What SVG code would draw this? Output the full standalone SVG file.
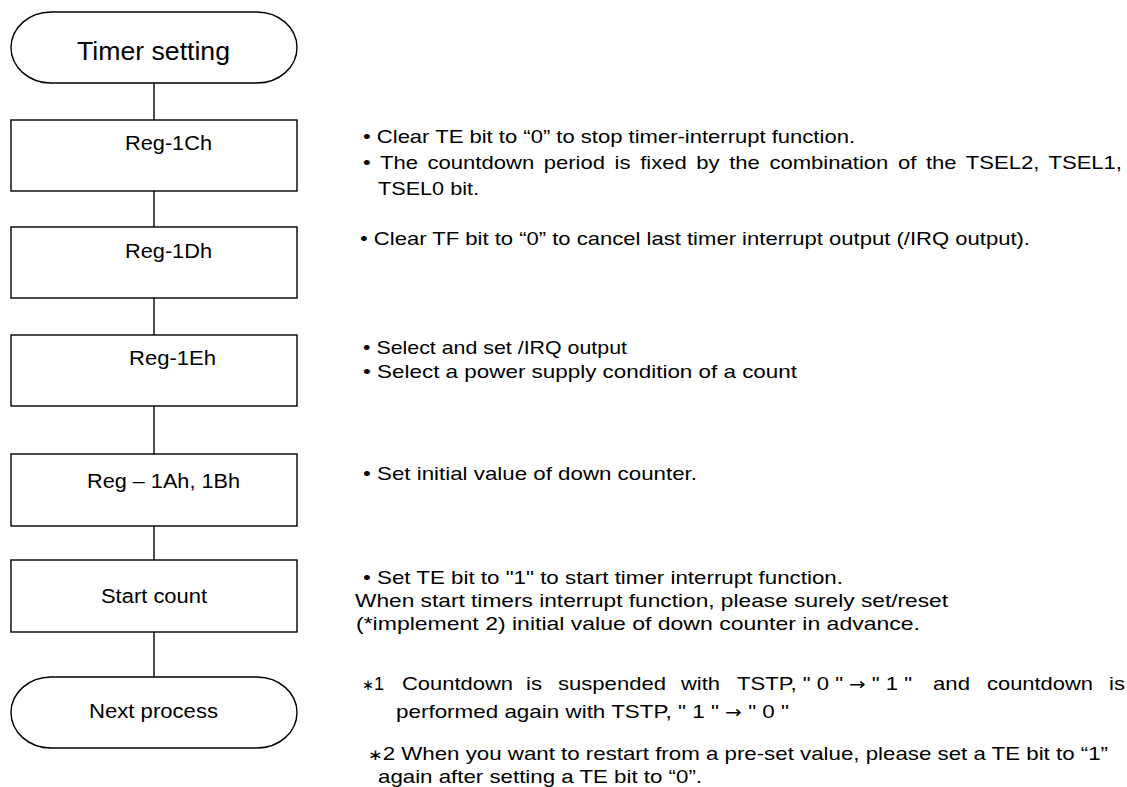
<svg xmlns="http://www.w3.org/2000/svg" width="1127" height="787" viewBox="0 0 1127 787">
<style>
.shape{fill:#fff;stroke:#000;stroke-width:1.4}
.conn{stroke:#000;stroke-width:1.4;fill:none}
.lbl{font-family:"Liberation Sans",Arial,sans-serif;font-size:20px;fill:#000}
.note{font-family:"Liberation Sans",Arial,sans-serif;font-size:19px;fill:#000}
.arr{font-family:"DejaVu Sans",sans-serif;font-size:17px}
.ast{font-family:"DejaVu Sans",sans-serif;font-size:15px}
</style>
<rect width="1127" height="787" fill="#fff"/>
<g id="connectors">
<line class="conn" x1="154" y1="83" x2="154" y2="120"/>
<line class="conn" x1="154" y1="191" x2="154" y2="227"/>
<line class="conn" x1="154" y1="298" x2="154" y2="335"/>
<line class="conn" x1="154" y1="406" x2="154" y2="454"/>
<line class="conn" x1="154" y1="526" x2="154" y2="560"/>
<line class="conn" x1="154" y1="632" x2="154" y2="677"/>
</g>
<g id="start">
<rect class="shape" x="11" y="12" width="286" height="71" rx="40" ry="35.5"/>
<text class="lbl" x="77" y="60" style="font-size:25px" textLength="153" lengthAdjust="spacingAndGlyphs">Timer setting</text>
</g>
<g id="reg1c">
<rect class="shape" x="11" y="120" width="286" height="71"/>
<text class="lbl" x="125" y="150" textLength="87" lengthAdjust="spacingAndGlyphs">Reg-1Ch</text>
</g>
<g id="reg1d">
<rect class="shape" x="11" y="227" width="286" height="71"/>
<text class="lbl" x="125" y="258" textLength="87" lengthAdjust="spacingAndGlyphs">Reg-1Dh</text>
</g>
<g id="reg1e">
<rect class="shape" x="11" y="335" width="286" height="71"/>
<text class="lbl" x="129" y="365" textLength="87" lengthAdjust="spacingAndGlyphs">Reg-1Eh</text>
</g>
<g id="reg1a1b">
<rect class="shape" x="11" y="454" width="286" height="72"/>
<text class="lbl" x="87" y="488" textLength="153" lengthAdjust="spacingAndGlyphs">Reg – 1Ah, 1Bh</text>
</g>
<g id="startcount">
<rect class="shape" x="11" y="560" width="286" height="72"/>
<text class="lbl" x="101" y="603" textLength="106" lengthAdjust="spacingAndGlyphs">Start count</text>
</g>
<g id="next">
<rect class="shape" x="11" y="677" width="286" height="71" rx="40" ry="35.5"/>
<text class="lbl" x="89" y="718" textLength="129" lengthAdjust="spacingAndGlyphs">Next process</text>
</g>
<g id="notes">
<text class="note" x="363" y="143" textLength="492" lengthAdjust="spacingAndGlyphs">• Clear TE bit to “0” to stop timer-interrupt function.</text>
<text class="note" x="363" y="169" word-spacing="3" textLength="759" lengthAdjust="spacingAndGlyphs">• The countdown period is fixed by the combination of the TSEL2, TSEL1,</text>
<text class="note" x="378" y="195" textLength="101" lengthAdjust="spacingAndGlyphs">TSEL0 bit.</text>
<text class="note" x="360" y="245" textLength="670" lengthAdjust="spacingAndGlyphs">• Clear TF bit to “0” to cancel last timer interrupt output (/IRQ output).</text>
<text class="note" x="363" y="354" textLength="264" lengthAdjust="spacingAndGlyphs">• Select and set /IRQ output</text>
<text class="note" x="363" y="378" textLength="434" lengthAdjust="spacingAndGlyphs">• Select a power supply condition of a count</text>
<text class="note" x="363" y="480" textLength="334" lengthAdjust="spacingAndGlyphs">• Set initial value of down counter.</text>
<text class="note" x="363" y="584" textLength="480" lengthAdjust="spacingAndGlyphs">• Set TE bit to "1" to start timer interrupt function.</text>
<text class="note" x="355" y="607" textLength="593" lengthAdjust="spacingAndGlyphs">When start timers interrupt function, please surely set/reset</text>
<text class="note" x="356" y="630" textLength="564" lengthAdjust="spacingAndGlyphs">(*implement 2) initial value of down counter in advance.</text>
<g id="note1">
<text class="note" x="362" y="690" textLength="22" lengthAdjust="spacingAndGlyphs"><tspan class="ast">∗</tspan>1</text>
<text class="note" x="402" y="690" textLength="111" lengthAdjust="spacingAndGlyphs">Countdown</text>
<text class="note" x="526" y="690" textLength="16" lengthAdjust="spacingAndGlyphs">is</text>
<text class="note" x="558" y="690" textLength="108" lengthAdjust="spacingAndGlyphs">suspended</text>
<text class="note" x="681" y="690" textLength="39" lengthAdjust="spacingAndGlyphs">with</text>
<text class="note" x="737" y="690" textLength="175" lengthAdjust="spacingAndGlyphs">TSTP, " 0 " <tspan class="arr">→</tspan> " 1 "</text>
<text class="note" x="933" y="690" textLength="37" lengthAdjust="spacingAndGlyphs">and</text>
<text class="note" x="987" y="690" textLength="106" lengthAdjust="spacingAndGlyphs">countdown</text>
<text class="note" x="1109" y="690" textLength="16" lengthAdjust="spacingAndGlyphs">is</text>
</g>
<text class="note" x="396" y="718" textLength="393" lengthAdjust="spacingAndGlyphs">performed again with TSTP, " 1 " <tspan class="arr">→</tspan> " 0 "</text>
<text class="note" x="368" y="760" textLength="740" lengthAdjust="spacingAndGlyphs"><tspan class="ast">∗</tspan>2 When you want to restart from a pre-set value, please set a TE bit to “1”</text>
<text class="note" x="378" y="783" textLength="324" lengthAdjust="spacingAndGlyphs">again after setting a TE bit to “0”.</text>
</g>
</svg>
